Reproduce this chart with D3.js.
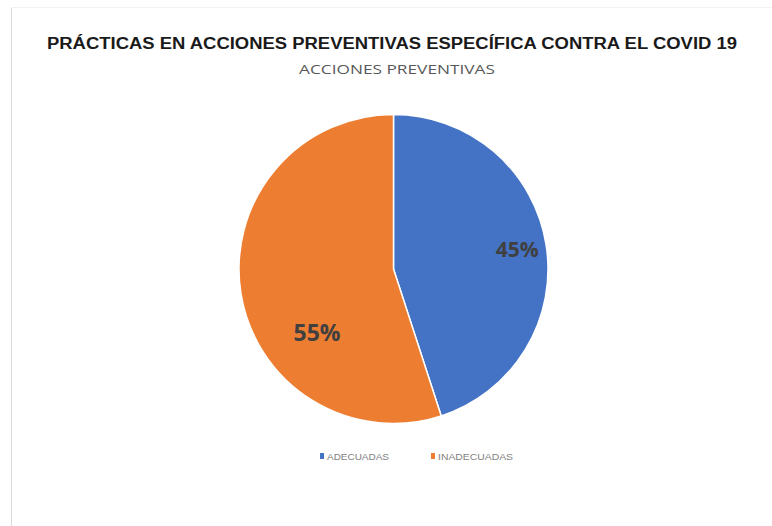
<!DOCTYPE html>
<html><head><meta charset="utf-8">
<script src="https://cdn.jsdelivr.net/npm/d3@7"></script>
<style>body{margin:0;background:#fff}svg{display:block}</style>
</head><body>
<svg id="c" width="772" height="526"></svg>
<script>
const categories = ["ADECUADAS", "INADECUADAS"];
const values = [45, 55];
const labels = ["45%", "55%"];
const colors = ["#4472C4", "#ED7D31"];
const title = "PRÁCTICAS EN ACCIONES PREVENTIVAS ESPECÍFICA CONTRA EL COVID 19";
const subtitle = "ACCIONES PREVENTIVAS";

const svg = d3.select("#c");
// frame
svg.append("line").attr("x1",11.5).attr("x2",11.5).attr("y1",7).attr("y2",526).attr("stroke","#d9d9d9").attr("stroke-width",1);
svg.append("line").attr("x1",11).attr("x2",772).attr("y1",7.5).attr("y2",7.5).attr("stroke","#f2f2f2").attr("stroke-width",1);

svg.append("text").attr("x",392).attr("y",49).attr("text-anchor","middle")
  .attr("font-family","Liberation Sans, Arial, sans-serif").attr("font-weight","bold")
  .attr("font-size",16).attr("fill","#1a1a1a").attr("textLength",690).attr("lengthAdjust","spacingAndGlyphs")
  .text(title);
svg.append("text").attr("x",397).attr("y",74).attr("text-anchor","middle")
  .attr("font-family","Open Sans, sans-serif").attr("font-size",12.5).attr("fill","#595959")
  .attr("textLength",196).attr("lengthAdjust","spacingAndGlyphs")
  .text(subtitle);

const cx = 393.5, cy = 269, r = 154.5;
const g = svg.append("g").attr("transform",`translate(${cx},${cy})`);
const pie = d3.pie().sort(null).value(d=>d);
const arcs = pie(values);
const arc = d3.arc().innerRadius(0).outerRadius(r);
g.selectAll("path").data(arcs).join("path")
  .attr("d",arc).attr("fill",(d,i)=>colors[i]).attr("stroke","#fff").attr("stroke-width",1.5);

// label placement: radius fraction and angle shift per slice
const labelR = [0.81, 0.64];
const labelShift = [0, -0.53];
g.selectAll("text.lab").data(arcs).join("text").attr("class","lab")
  .each(function(d,i){
    const a = (d.startAngle+d.endAngle)/2 + labelShift[i];
    const rr = r*labelR[i];
    d3.select(this).attr("x", rr*Math.sin(a)).attr("y", -rr*Math.cos(a));
  })
  .attr("text-anchor","middle").attr("dominant-baseline","central")
  .attr("font-family","Open Sans, sans-serif").attr("font-weight","bold")
  .attr("font-size",(d,i)=>i===0?21:23).attr("fill","#404040")
  .text((d,i)=>labels[i]);

// legend
const legX = d3.scaleOrdinal().domain(categories).range([320, 431]);
const lg = svg.append("g");
categories.forEach((c,i)=>{
  lg.append("rect").attr("x",legX(c)).attr("y",453).attr("width",4).attr("height",6).attr("fill",colors[i]);
  lg.append("text").attr("x",legX(c)+7).attr("y",459.5)
    .attr("font-family","Liberation Sans, Arial, sans-serif").attr("font-size",8.5).attr("fill","#7f7f7f")
    .attr("textLength", i===0?62:75).attr("lengthAdjust","spacingAndGlyphs")
    .text(c);
});
</script>
</body></html>
